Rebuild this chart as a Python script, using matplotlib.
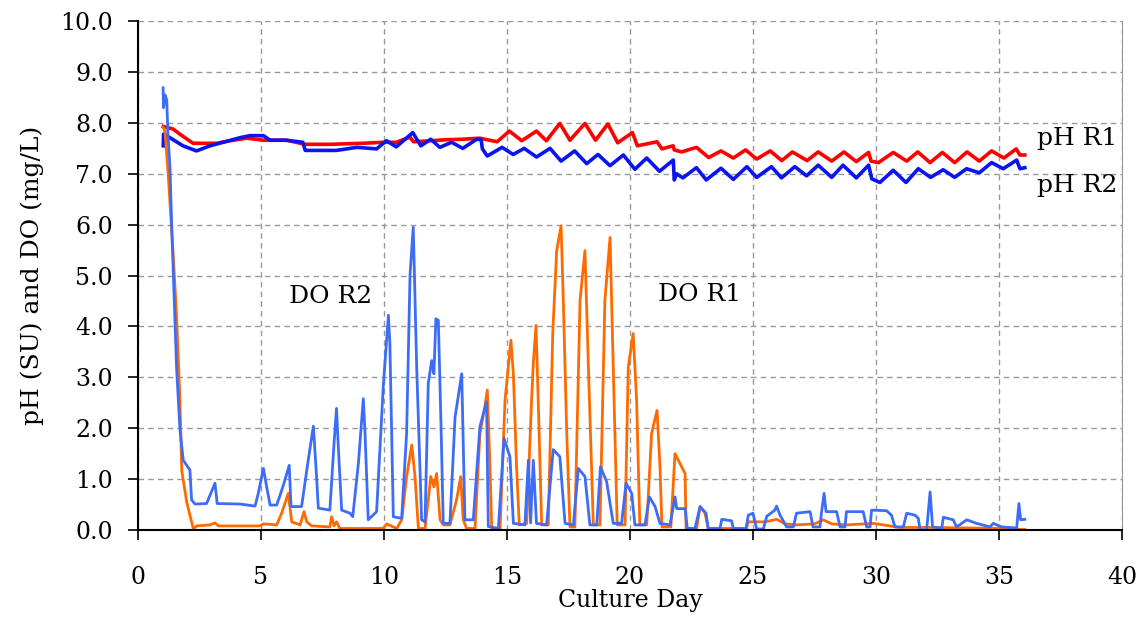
import matplotlib
matplotlib.use("Agg")
import matplotlib.pyplot as plt

plt.rcParams['font.family'] = ['DejaVu Serif']

# pH R1 (red)
ph1_day = [1.03, 1.43, 1.7, 2.24, 3.2, 3.74, 4.42, 5.1, 6.04, 6.8, 7.8, 9.15, 9.96, 10.5,
           11.06, 11.2, 12.55, 13.2, 13.9, 14.6, 15.1, 15.6, 16.2, 16.6, 17.15, 17.56,
           18.17, 18.6, 19.1, 19.5, 20.1, 20.3, 21.1, 21.3, 21.75, 21.8, 22.1, 22.7,
           23.2, 23.7, 24.2, 24.7, 25.15, 25.7, 26.17, 26.6, 27.2, 27.65, 28.2, 28.7,
           29.2, 29.7, 29.8, 30.1, 30.7, 31.25, 31.7, 32.2, 32.7, 33.2, 33.7, 34.2,
           34.7, 35.2, 35.7, 35.85, 36.05]
ph1_val = [7.93, 7.88, 7.78, 7.6, 7.6, 7.65, 7.7, 7.66, 7.66, 7.58, 7.58, 7.6, 7.62, 7.62,
           7.72, 7.63, 7.67, 7.68, 7.7, 7.63, 7.84, 7.65, 7.84, 7.65, 7.99, 7.66,
           7.99, 7.66, 7.98, 7.61, 7.81, 7.55, 7.63, 7.49, 7.55, 7.47, 7.43, 7.52,
           7.32, 7.45, 7.31, 7.47, 7.29, 7.45, 7.26, 7.43, 7.26, 7.43, 7.25, 7.43,
           7.24, 7.42, 7.25, 7.22, 7.42, 7.25, 7.43, 7.22, 7.42, 7.22, 7.43, 7.25,
           7.45, 7.31, 7.49, 7.37, 7.37]

# pH R2 (blue)
ph2_day = [1.03, 1.04, 1.3, 1.83, 2.38, 2.93, 3.46, 4.15, 4.55, 5.1, 5.37, 6.04, 6.7, 6.8,
           7.26, 8.07, 8.9, 9.7, 10.1, 10.5, 11.17, 11.5, 11.9, 12.27, 12.75, 13.2,
           13.77, 13.95, 14.0, 14.2, 14.8, 15.25, 15.7, 16.2, 16.75, 17.2, 17.75, 18.24,
           18.7, 19.19, 19.73, 20.2, 20.68, 21.2, 21.76, 21.8, 21.9, 22.15, 22.7, 23.1,
           23.7, 24.2, 24.75, 25.15, 25.75, 26.16, 26.7, 27.18, 27.65, 28.2, 28.66,
           29.2, 29.7, 29.83, 30.16, 30.7, 31.22, 31.72, 32.22, 32.73, 33.2, 33.68,
           34.2, 34.7, 35.17, 35.72, 35.85, 36.05]
ph2_val = [7.55, 7.78, 7.71, 7.55, 7.45, 7.55, 7.62, 7.71, 7.75, 7.75, 7.66, 7.66, 7.62, 7.46,
           7.46, 7.46, 7.52, 7.49, 7.65, 7.53, 7.81, 7.55, 7.68, 7.52, 7.62, 7.5,
           7.68, 7.67, 7.49, 7.35, 7.52, 7.38, 7.5, 7.33, 7.5, 7.25, 7.45, 7.2,
           7.38, 7.16, 7.37, 7.09, 7.31, 7.05, 7.27, 6.88, 7.0, 6.92, 7.12, 6.88,
           7.11, 6.89, 7.14, 6.93, 7.14, 6.92, 7.14, 6.96, 7.17, 6.93, 7.17,
           6.92, 7.17, 6.9, 6.83, 7.07, 6.83, 7.1, 6.93, 7.08, 6.93, 7.1,
           7.02, 7.22, 7.1, 7.27, 7.1, 7.12]

# DO R1 (orange)
do1_day = [1.03, 1.1, 1.23, 1.43, 1.57, 1.7, 1.78, 1.98, 2.18, 2.25, 2.38, 2.93, 3.13, 3.27,
           4.96, 5.1, 5.64, 5.84, 6.11, 6.25, 6.59, 6.75, 6.86, 7.06, 7.8, 7.87, 7.97,
           8.07, 8.21, 9.97, 10.11, 10.52, 10.72, 10.92, 11.13, 11.26, 11.4, 11.67, 11.8,
           11.9, 12.03, 12.14, 12.28, 12.41, 12.68, 12.95, 13.12, 13.22, 13.36, 13.7,
           13.9, 14.1, 14.2, 14.31, 14.38, 14.72, 14.92, 15.16, 15.26, 15.39, 15.5, 15.8,
           16.0, 16.07, 16.18, 16.27, 16.41, 16.68, 16.86, 17.02, 17.2, 17.29, 17.43,
           17.56, 17.76, 17.97, 18.17, 18.31, 18.51, 18.78, 18.98, 19.19, 19.32, 19.48,
           19.8, 19.93, 20.13, 20.27, 20.4, 20.68, 20.88, 21.1, 21.22, 21.3, 21.66,
           21.83, 22.03, 22.24, 22.28, 22.71, 22.85, 23.05, 23.18, 24.74, 24.8, 25.5,
           25.96, 26.3, 26.77, 27.5, 27.86, 28.2, 28.8, 29.89, 30.98, 32.33, 33.69,
           35.04, 36.05]
do1_val = [7.91, 7.83, 6.98, 5.43, 4.2, 2.64, 1.17, 0.55, 0.16, 0.02, 0.08, 0.1, 0.14, 0.08,
           0.08, 0.12, 0.1, 0.33, 0.72, 0.16, 0.1, 0.36, 0.16, 0.08, 0.06, 0.26, 0.08,
           0.16, 0.03, 0.03, 0.12, 0.03, 0.2, 1.05, 1.67, 1.05, 0.03, 0.03, 0.59,
           1.05, 0.85, 1.11, 0.2, 0.1, 0.1, 0.59, 1.05, 0.2, 0.03, 0.03,
           1.9, 2.42, 2.75, 1.24, 0.03, 0.03, 2.55, 3.73, 3.07, 1.24, 0.1, 0.13,
           2.55, 3.27, 4.02, 2.55, 0.1, 0.1, 3.86, 5.49, 5.98, 4.51, 1.9,
           0.06, 0.06, 4.51, 5.49, 3.2, 0.1, 0.1, 4.51, 5.75, 3.2, 0.1,
           0.1, 3.2, 3.86, 2.55, 0.1, 0.1, 1.9, 2.35, 1.24, 0.06, 0.06,
           1.5, 1.31, 1.11, 0.03, 0.03, 0.46, 0.33, 0.03, 0.03, 0.16, 0.16,
           0.21, 0.12, 0.1, 0.12, 0.2, 0.12, 0.1, 0.13, 0.05, 0.05, 0.04,
           0.03, 0.01]

# DO R2 (light blue)
do2_day = [1.02, 1.04, 1.1, 1.17, 1.22, 1.3, 1.37, 1.5, 1.57, 1.71, 1.84, 2.11, 2.18, 2.32,
           2.79, 3.13, 3.22, 4.15, 4.76, 4.89, 5.1, 5.23, 5.37, 5.64, 5.91, 6.15, 6.22,
           6.65, 6.92, 7.13, 7.26, 7.33, 7.8, 7.97, 8.07, 8.14, 8.28, 8.62, 8.73, 8.96,
           9.16, 9.23, 9.36, 9.7, 9.97, 10.18, 10.24, 10.38, 10.72, 10.92, 11.06, 11.19,
           11.33, 11.53, 11.67, 11.8, 11.94, 12.03, 12.11, 12.21, 12.32, 12.41, 12.68,
           12.89, 13.16, 13.29, 13.63, 13.9, 14.17, 14.24, 14.65, 14.88, 15.12, 15.26,
           15.73, 15.87, 15.96, 16.07, 16.2, 16.61, 16.88, 17.15, 17.36, 17.7, 17.9,
           18.17, 18.37, 18.65, 18.8, 19.05, 19.32, 19.66, 19.84, 20.07, 20.2, 20.61,
           20.79, 21.02, 21.22, 21.63, 21.83, 21.9, 22.24, 22.33, 22.64, 22.85, 23.09,
           23.18, 23.66, 23.73, 24.13, 24.2, 24.72, 24.81, 25.0, 25.15, 25.42, 25.56,
           25.89, 25.96, 26.1, 26.37, 26.64, 26.77, 27.32, 27.44, 27.72, 27.79, 27.89,
           27.97, 28.4, 28.54, 28.74, 28.8, 29.48, 29.62, 29.76, 29.82, 30.43, 30.63,
           30.77, 31.11, 31.25, 31.59, 31.72, 31.79, 32.06, 32.2, 32.3, 32.67, 32.74,
           33.14, 33.28, 33.69, 34.09, 34.63, 34.77, 35.11, 35.72, 35.81, 35.88, 36.05]
do2_val = [8.69, 8.3, 8.55, 8.45, 7.75, 7.14, 5.98, 4.2, 3.18, 1.96, 1.37, 1.18, 0.59, 0.51,
           0.52, 0.92, 0.52, 0.51, 0.47, 0.72, 1.21, 0.85, 0.49, 0.49, 0.88, 1.27, 0.46,
           0.46, 1.37, 2.04, 1.05, 0.43, 0.39, 1.7, 2.39, 1.67, 0.39, 0.33, 0.26, 1.31,
           2.58, 1.9, 0.2, 0.36, 2.81, 4.22, 3.66, 0.26, 0.23, 1.9, 5.03, 5.95,
           3.2, 0.2, 0.16, 2.88, 3.33, 3.07, 4.15, 4.12, 2.03, 0.13, 0.13,
           2.22, 3.07, 0.2, 0.2, 2.03, 2.52, 0.07, 0.03, 1.8, 1.44, 0.13,
           0.1, 1.37, 0.14, 1.37, 0.13, 0.1, 1.58, 1.44, 0.13, 0.1, 1.21,
           1.05, 0.1, 0.1, 1.24, 0.95, 0.13, 0.13, 0.92, 0.72, 0.1, 0.1,
           0.65, 0.46, 0.13, 0.1, 0.65, 0.42, 0.42, 0.03, 0.03, 0.46, 0.33,
           0.03, 0.03, 0.21, 0.18, 0.03, 0.03, 0.29, 0.33, 0.02, 0.02, 0.27,
           0.39, 0.47, 0.29, 0.06, 0.06, 0.33, 0.36, 0.06, 0.06, 0.36, 0.72,
           0.36, 0.36, 0.06, 0.06, 0.36, 0.36, 0.06, 0.06, 0.39, 0.38, 0.29,
           0.06, 0.06, 0.33, 0.29, 0.23, 0.0, 0.0, 0.75, 0.06, 0.03, 0.25,
           0.2, 0.06, 0.2, 0.13, 0.06, 0.13, 0.06, 0.04, 0.52, 0.2, 0.21]

x_ticks = [0, 5, 10, 15, 20, 25, 30, 35, 40]
y_ticks = [0, 1, 2, 3, 4, 5, 6, 7, 8, 9, 10]

fig = plt.figure(figsize=(11.45, 6.19), dpi=100)
ax = fig.add_axes([0.1205, 0.1438, 0.8594, 0.822])

ax.plot(ph1_day, ph1_val, color='#ff0000', lw=2.6)
ax.plot(ph2_day, ph2_val, color='#0a14f0', lw=2.6)
ax.plot(do1_day, do1_val, color='#ff6a00', lw=2.0)
ax.plot(do2_day, do2_val, color='#3c6cf8', lw=2.0)

ax.set_xlim(0, 40)
ax.set_ylim(0, 10)
ax.set_xticks(x_ticks)
ax.set_yticks(y_ticks)
ax.set_yticklabels([f'{v:.1f}' for v in y_ticks])
ax.tick_params(axis='both', labelsize=17, direction='out', length=7, width=1.2)
ax.tick_params(axis='x', pad=19)
ax.tick_params(axis='y', pad=11)

ax.grid(True, color='#999999', linestyle=(0, (4, 3)), linewidth=1)
ax.spines['top'].set_visible(False)
ax.spines['right'].set_color('#999999')
ax.spines['left'].set_linewidth(1.5)
ax.spines['bottom'].set_linewidth(1.5)

ax.set_xlabel('Culture Day', fontsize=17, labelpad=0)
ax.set_ylabel('pH (SU) and DO (mg/L)', fontsize=18, labelpad=12)

ax.text(36.55, 7.7, 'pH R1', fontsize=18, va='center')
ax.text(36.55, 6.78, 'pH R2', fontsize=18, va='center')
ax.text(6.14, 4.59, 'DO R2', fontsize=18, va='center')
ax.text(21.14, 4.63, 'DO R1', fontsize=18, va='center')

fig.savefig('out.png', dpi=100)
